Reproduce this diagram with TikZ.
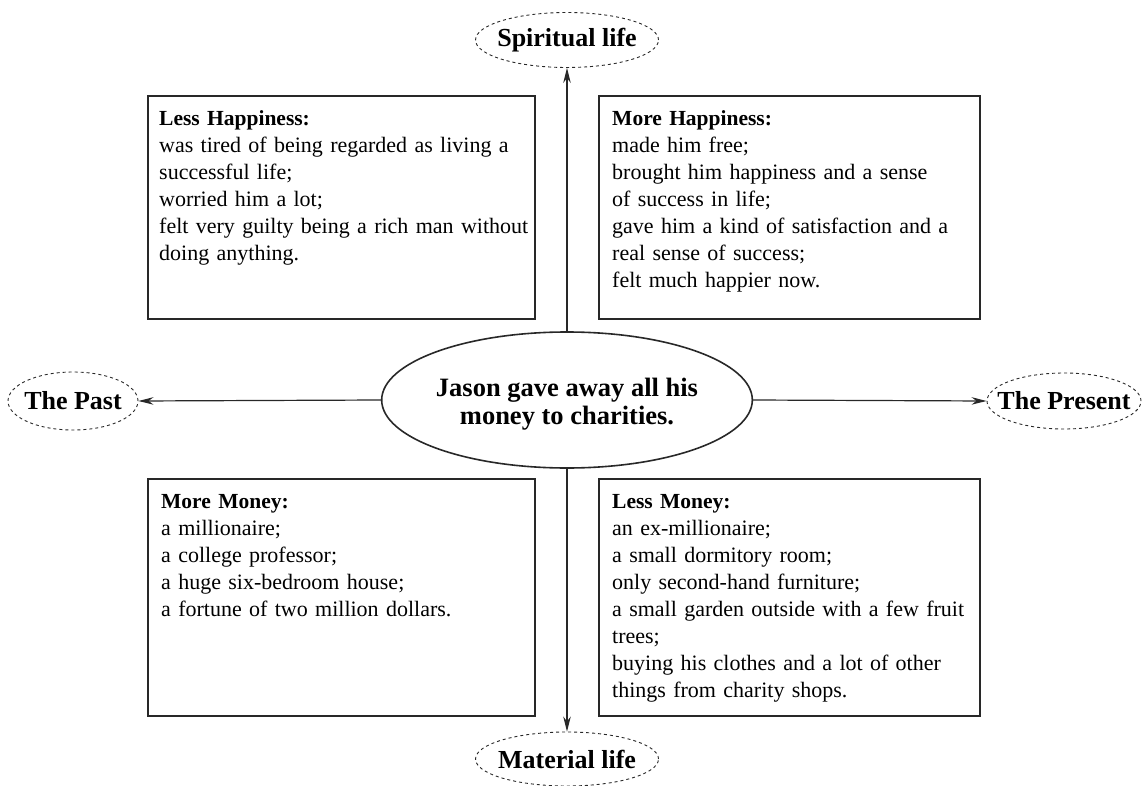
\documentclass[tikz,border=0pt]{standalone}
\usepackage{fontspec}
\setmainfont{Liberation Serif}
\usepackage{tikz}
\usetikzlibrary{positioning, arrows.meta, shapes.geometric}
\definecolor{inkgray}{RGB}{40,40,40}

\begin{document}
\begin{tikzpicture}[
  x=1pt, y=-1pt,
  quad/.style={draw=inkgray, line width=1.8pt, anchor=north west, inner sep=0pt},
  note/.style={anchor=base west, inner sep=0pt, text width=420pt, align=left,
               font=\fontsize{22}{27}\selectfont},
  hub/.style={draw=inkgray, ellipse, line width=1.6pt, inner sep=0pt,
              minimum width=331pt, minimum height=136pt,
              font=\bfseries\fontsize{26.5}{28}\selectfont},
  era/.style={draw=inkgray, ellipse, dashed, line width=0.9pt,
              inner xsep=-20pt, inner ysep=0pt,
              font=\bfseries\fontsize{26}{28}\selectfont},
  arr/.style={-{Stealth[length=15pt, width=7.5pt]}, line width=1.2pt, inkgray},
]
  \useasboundingbox (0,0) rectangle (1142,786);

  % centre
  \node[hub] (jason) at (567,400)
    {\raisebox{-5pt}[\height][\depth]{\begin{tabular}{@{}c@{}}Jason gave away all his\\money to charities.\end{tabular}}};

  % the four ends
  \node[era, minimum width=183pt, minimum height=55pt] (spirit) at (567,40) {Spiritual life};
  \node[era, minimum width=183pt, minimum height=54pt] (matter) at (567,759) {Material life};
  \node[era, minimum width=130pt, minimum height=58pt] (past) at (73,401) {The Past};
  \node[era, minimum width=154pt, minimum height=56pt] (now) at (1064,401) {The Present};

  % boxes
  \node[quad, minimum width=387pt, minimum height=223pt] (lesshap) at (147,95) {};
  \node[quad, minimum width=381pt, minimum height=223pt] (morehap) at (598,95) {};
  \node[quad, minimum width=387pt, minimum height=237pt] (moremon) at (147,478) {};
  \node[quad, minimum width=381pt, minimum height=237pt] (lessmon) at (598,478) {};

  \node[note] (lesshaptxt) at (159,126)
    {\textbf{\fontsize{21.5}{27}\selectfont Less Happiness:}\\
     was tired of being regarded as living a\\
     successful life;\\
     worried him a lot;\\
     felt very guilty being a rich man without\\
     doing anything.};
  \node[note] (morehaptxt) at (612,126)
    {\textbf{\fontsize{21.5}{27}\selectfont More Happiness:}\\
     made him free;\\
     brought him happiness and a sense\\
     of success in life;\\
     gave him a kind of satisfaction and a\\
     real sense of success;\\
     felt much happier now.};
  \node[note] (moremontxt) at (161,508)
    {\textbf{\fontsize{21.5}{27}\selectfont More Money:}\\
     a millionaire;\\
     a college professor;\\
     a huge six-bedroom house;\\
     a fortune of two million dollars.};
  \node[note] (lessmontxt) at (612,508)
    {\textbf{\fontsize{21.5}{27}\selectfont Less Money:}\\
     an ex-millionaire;\\
     a small dormitory room;\\
     only second-hand furniture;\\
     a small garden outside with a few fruit\\
     trees;\\
     buying his clothes and a lot of other\\
     things from charity shops.};

  % axes
  \draw[arr] (jason.north) -- (spirit.south);
  \draw[arr] (jason.south) -- (matter.north);
  \draw[arr] (jason.west) -- (past.east);
  \draw[arr] (jason.east) -- (now.west);
\end{tikzpicture}
\end{document}
